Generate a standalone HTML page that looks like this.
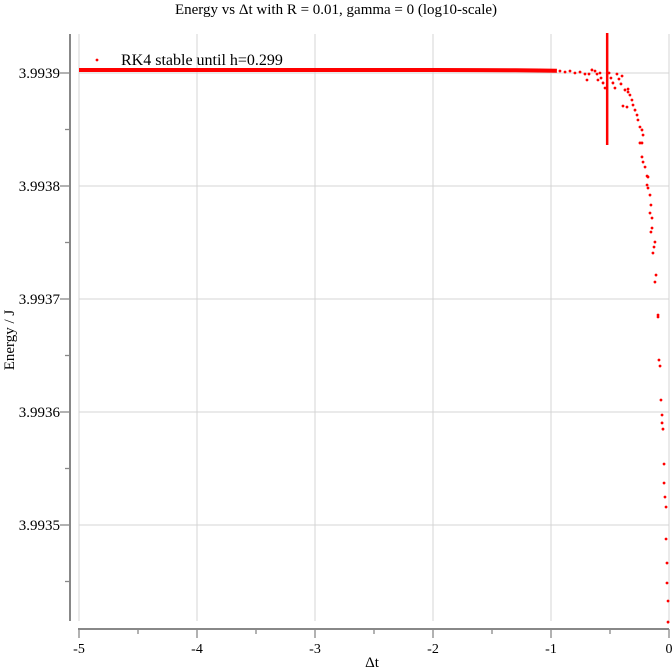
<!DOCTYPE html>
<html><head><meta charset="utf-8"><style>
body{margin:0;background:#fff}
svg{display:block;font-family:"Liberation Serif",serif}
</style></head><body>
<svg id="chart" width="672" height="672" viewBox="0 0 672 672">
<text x="336" y="14" font-size="15" text-anchor="middle">Energy vs Δt with R = 0.01, gamma = 0 (log10-scale)</text>
<text transform="translate(14,340) rotate(-90)" font-size="15" text-anchor="middle">Energy / J</text>
<text x="372" y="667" font-size="15" text-anchor="middle">Δt</text>
<g id="grid"></g><g id="axes"></g><g id="marks"></g>
<g>
<circle cx="97" cy="60" r="1.4" fill="#f00"/>
<text x="121" y="65" font-size="16">RK4 stable until h=0.299</text>
</g>
</svg>
<script>
const xTicks=[-5,-4,-3,-2,-1,0];
const yTicks=[3.9939,3.9938,3.9937,3.9936,3.9935];
const yTickLabels=["3.9939","3.9938","3.9937","3.9936","3.9935"];
const flatX=[-5,-4.5,-4,-3.5,-3,-2.5,-2,-1.6,-1.3,-1.1,-0.95];
const flatE=[3.9939027,3.9939027,3.9939027,3.9939027,3.9939027,3.9939027,3.9939026,3.9939025,3.9939024,3.9939022,3.9939020];
const ptX=[-0.924,-0.881,-0.839,-0.797,-0.754,-0.712,-0.695,-0.678,-0.653,-0.627,-0.610,-0.602,-0.585,-0.576,-0.559,-0.542,-0.508,-0.492,-0.475,-0.458,-0.441,-0.424,-0.407,-0.398,-0.373,-0.347,
-0.39,-0.356,-0.347,-0.331,-0.314,-0.305,-0.288,-0.271,-0.263,-0.246,-0.229,-0.220,-0.246,-0.229,-0.229,-0.220,-0.203,-0.186,-0.178,-0.186,-0.178,-0.161,-0.153,-0.161,-0.144,-0.144,-0.153,-0.119,-0.127,-0.136,-0.110,-0.119,-0.093,-0.093,-0.085,-0.076,-0.068,-0.059,-0.059,-0.051,-0.042,-0.042,-0.034,-0.025,-0.025,-0.017,-0.017,-0.008,-0.008];
const ptE=[3.9939018,3.9939009,3.9939018,3.9939000,3.9939009,3.9938991,3.9938938,3.9938991,3.9939027,3.9939018,3.9938991,3.9938938,3.9939000,3.9938956,3.9938912,3.9938867,3.9939000,3.9938956,3.9938912,3.9938867,3.9938991,3.9938947,3.9938903,3.9938973,3.9938850,3.9938858,
3.9938708,3.9938699,3.9938832,3.9938805,3.9938761,3.9938717,3.9938672,3.9938628,3.9938584,3.9938522,3.9938496,3.9938451,3.9938381,3.9938381,3.9938257,3.9938212,3.9938168,3.9938088,3.9938080,3.9938009,3.9937982,3.9937920,3.9937832,3.9937761,3.9937717,3.9937628,3.9937593,3.9937504,3.9937460,3.9937407,3.9937212,3.9937150,3.9936858,3.9936841,3.9936460,3.9936407,3.9936106,3.9935973,3.9935903,3.9935849,3.9935540,3.9935372,3.9935248,3.9935159,3.9934876,3.9934664,3.9934487,3.9934327,3.9934141];
const stableX=[-0.524];
const stableRange=[3.9938363,3.9939354];
const XS=118,Y0=73,YS=113/0.0001;
function sx(v){return 669+v*XS;}
function sy(e){return Y0-(e-3.9939)*YS;}
const NS="http://www.w3.org/2000/svg";
function mk(parent,tag,attrs){const el=document.createElementNS(NS,tag);for(const k in attrs)el.setAttribute(k,attrs[k]);document.getElementById(parent).appendChild(el);return el;}
xTicks.forEach((t,i)=>{
 const x=sx(t);
 const g=mk('grid','line',{x1:x,x2:x,y1:34,y2:621,stroke:'#d4d4d4','stroke-width':1});
 
 
 const tk=mk('axes','line',{x1:x,x2:x,y1:629,y2:638,stroke:'#888','stroke-width':1.3});
 
 
 const lb=mk('axes','text',{x:x,y:653,'font-size':14,'text-anchor':'middle'});
 lb.textContent=t===0?'0':String(t);
 
 
 if(i<xTicks.length-1){const m=sx(t+0.5);
  const mt=mk('axes','line',{x1:m,x2:m,y1:629,y2:634,stroke:'#888','stroke-width':1.3});
  
  }
});
yTicks.forEach((t,i)=>{
 const y=sy(t);
 const g=mk('grid','line',{x1:79,x2:669,y1:y,y2:y,stroke:'#d4d4d4','stroke-width':1});
 
 
 const tk=mk('axes','line',{x1:60,x2:70,y1:y,y2:y,stroke:'#888','stroke-width':1.3});
 
 
 const lb=mk('axes','text',{x:60,y:y+5,'font-size':15,'text-anchor':'end'});
 lb.textContent=yTickLabels[i];
 
 
 const m=sy(t-0.00005);
 const mt=mk('axes','line',{x1:65,x2:70,y1:m,y2:m,stroke:'#888','stroke-width':1.3});
 
 
});
const ya=mk('axes','line',{x1:70,x2:70,y1:34,y2:621,stroke:'#888','stroke-width':2});


const xa=mk('axes','line',{x1:78,x2:669,y1:629,y2:629,stroke:'#888','stroke-width':2});


const pl=mk('marks','polyline',{points:flatX.map((v,i)=>sx(v)+','+sy(flatE[i])).join(' '),fill:'none',stroke:'#f00','stroke-width':4});


ptX.forEach((v,i)=>{
 const c=mk('marks','circle',{cx:sx(v),cy:sy(ptE[i]),r:1.4,fill:'#f00'});
 
 
});
const vl=mk('marks','line',{x1:sx(stableX[0]),x2:sx(stableX[0]),y1:sy(stableRange[1]),y2:sy(stableRange[0]),stroke:'#f00','stroke-width':2.5});


</script>
</body></html>
